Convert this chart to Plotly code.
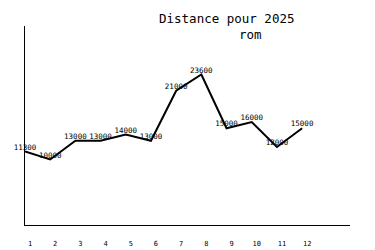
import plotly.graph_objects as go

months = [1, 2, 3, 4, 5, 6, 7, 8, 9, 10, 11, 12]
distances = [11300, 10000, 13000, 13000, 14000, 13000, 21000, 23600, 15000, 16000, 12000, 15000]
tick_labels = [str(m) for m in months]
title_line1 = "Distance pour 2025"
title_line2 = "rom"

fig = go.Figure()
fig.add_trace(go.Scatter(
    x=months, y=distances, mode="lines+text",
    text=[str(v) for v in distances],
    textposition="top center",
    textfont=dict(family="DejaVu Sans Mono", size=7.5, color="black"),
    line=dict(color="black", width=2),
    cliponaxis=False,
    hoverinfo="skip",
))

fig.update_layout(
    width=375, height=250,
    margin=dict(l=25, r=25, t=26, b=25, autoexpand=False),
    paper_bgcolor="white", plot_bgcolor="white",
    showlegend=False,
    font=dict(family="DejaVu Sans Mono", color="black"),
    xaxis=dict(range=[1, 13.9], showgrid=False, zeroline=False, automargin=False,
               showline=True, linecolor="black", linewidth=1,
               tickmode="array", tickvals=months, ticktext=tick_labels,
               ticks="", ticklabelstandoff=12, ticklabelshift=5,
               tickfont=dict(family="DejaVu Sans Mono", size=7)),
    yaxis=dict(range=[-480, 31360], showgrid=False, zeroline=False, automargin=False,
               showline=True, linecolor="black", linewidth=1,
               showticklabels=False, ticks=""),
    annotations=[
        dict(text=title_line1, xref="paper", yref="paper", x=(226 - 25) / 325, y=1,
             yshift=8, xanchor="center", yanchor="middle", showarrow=False,
             font=dict(family="DejaVu Sans Mono", size=12.5, color="black")),
        dict(text=title_line2, xref="paper", yref="paper", x=(250 - 25) / 325, y=1,
             yshift=-8, xanchor="center", yanchor="middle", showarrow=False,
             font=dict(family="DejaVu Sans Mono", size=12.5, color="black")),
    ],
)

fig.write_html("out.html")
